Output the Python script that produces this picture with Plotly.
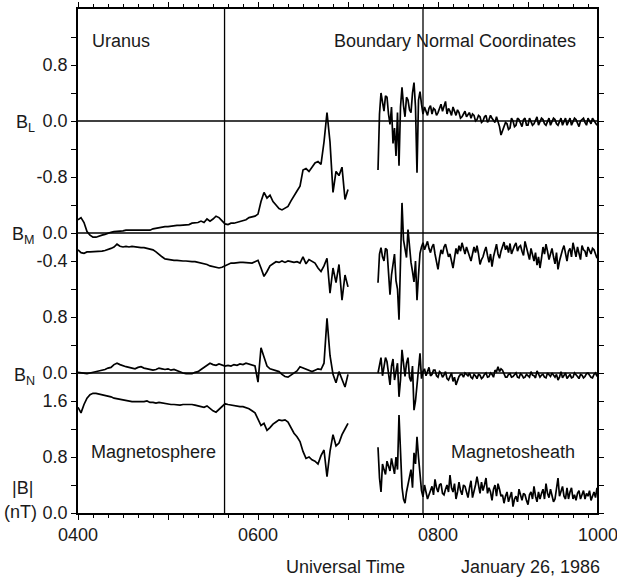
import plotly.graph_objects as go

# ---- data (time in minutes after 04:00 UT) ----
# Magnetosphere segment: 2-minute samples, t = 0..180
minutes_sphere = list(range(0, 182, 2))
# Magnetosheath / boundary segment: 1-minute samples, t = 200..346
minutes_sheath_even = list(range(200, 348, 2))
minutes_sheath_odd = list(range(201, 346, 2))

BL_sphere = [
    -1.41, -1.38, -1.45, -1.58, -1.63, -1.66, -1.66, -1.64, -1.63, -1.62,
    -1.60, -1.59, -1.58, -1.58, -1.57, -1.57, -1.56, -1.56, -1.56, -1.55,
    -1.55, -1.56, -1.55, -1.55, -1.56, -1.54, -1.53, -1.52, -1.52, -1.51,
    -1.51, -1.50, -1.50, -1.49, -1.49, -1.49, -1.48, -1.48, -1.46, -1.46,
    -1.45, -1.43, -1.45, -1.40, -1.43, -1.40, -1.36, -1.38, -1.42, -1.47,
    -1.48, -1.46, -1.46, -1.45, -1.44, -1.42, -1.41, -1.38, -1.37, -1.36,
    -1.33, -1.15, -1.02, -1.10, -1.06, -1.15, -1.20, -1.25, -1.27, -1.25,
    -1.22, -1.14, -1.06, -1.00, -0.93, -0.70, -0.68, -0.72, -0.66, -0.60,
    -0.58, -0.62, -0.30, 0.12, -0.30, -1.02, -0.72, -0.78, -0.66, -1.12,
    -0.98,
]
BL_sheath_even = [
    -0.70, 0.40, 0.14, 0.34, -0.05, -0.32, -0.50, -0.64, 0.48, 0.06,
    0.30, 0.12, 0.55, -0.74, 0.42, 0.10, 0.14, 0.18, 0.10, 0.16,
    0.12, 0.24, 0.22, 0.10, 0.14, 0.20, 0.08, 0.12, 0.06, 0.14,
    0.10, 0.04, 0.08, 0.02, 0.06, 0.00, 0.08, 0.02, 0.04, -0.02,
    0.00, -0.20, -0.08, -0.04, -0.10, 0.00, -0.06, 0.02, -0.08, 0.04,
    -0.06, 0.00, -0.04, 0.06, -0.02, 0.02, -0.06, 0.04, -0.02, 0.02,
    -0.06, 0.04, 0.00, -0.06, 0.04, -0.02, 0.02, -0.08, 0.02, -0.02,
    0.04, -0.04, 0.00, -0.06,
]
BL_sheath_odd = [
    0.10, 0.28, 0.36, 0.10, 0.20, -0.10, 0.12, 0.20, 0.22, 0.34,
    0.16, 0.40, 0.20, 0.30, 0.24, 0.20, 0.08, 0.22, 0.18, 0.08,
    0.18, 0.14, 0.28, 0.18, 0.08, 0.12, 0.16, 0.04, 0.10, 0.06,
    0.12, 0.10, 0.00, 0.08, -0.02, 0.06, -0.02, 0.08, 0.00, 0.06,
    -0.08, -0.14, -0.02, -0.12, 0.04, -0.08, 0.04, -0.04, 0.02, -0.06,
    0.04, -0.06, 0.00, -0.06, 0.04, -0.04, 0.00, -0.06, 0.04, -0.04,
    0.00, -0.06, 0.04, 0.00, -0.06, 0.04, -0.04, 0.00, 0.04, -0.06,
    0.00, 0.04, -0.04,
]

BM_sphere = [
    -0.24, -0.28, -0.29, -0.27, -0.27, -0.27, -0.26, -0.27, -0.26, -0.25,
    -0.24, -0.22, -0.20, -0.16, -0.19, -0.20, -0.19, -0.20, -0.19, -0.20,
    -0.20, -0.21, -0.21, -0.22, -0.23, -0.24, -0.27, -0.31, -0.34, -0.37,
    -0.38, -0.39, -0.39, -0.39, -0.40, -0.40, -0.40, -0.41, -0.41, -0.41,
    -0.42, -0.43, -0.43, -0.45, -0.47, -0.48, -0.50, -0.50, -0.49, -0.47,
    -0.45, -0.43, -0.43, -0.42, -0.42, -0.42, -0.42, -0.42, -0.43, -0.41,
    -0.39, -0.50, -0.62, -0.55, -0.47, -0.44, -0.41, -0.42, -0.40, -0.42,
    -0.40, -0.41, -0.42, -0.41, -0.43, -0.34, -0.44, -0.38, -0.40, -0.43,
    -0.50, -0.55, -0.47, -0.36, -0.86, -0.50, -0.71, -0.45, -0.96, -0.60,
    -0.77,
]
BM_sheath_even = [
    -0.71, -0.21, -0.40, -0.24, -0.88, -0.45, -0.68, -1.24, 0.43, -0.20,
    0.05, -0.42, -0.70, -0.96, -0.29, -0.14, -0.18, -0.22, -0.20, -0.30,
    -0.52, -0.24, -0.20, -0.26, -0.30, -0.50, -0.22, -0.18, -0.14, -0.30,
    -0.28, -0.40, -0.20, -0.18, -0.45, -0.34, -0.20, -0.42, -0.48, -0.22,
    -0.30, -0.26, -0.13, -0.18, -0.15, -0.22, -0.14, -0.20, -0.26, -0.12,
    -0.30, -0.22, -0.40, -0.46, -0.50, -0.20, -0.16, -0.38, -0.22, -0.44,
    -0.52, -0.30, -0.18, -0.40, -0.22, -0.14, -0.34, -0.30, -0.18, -0.26,
    -0.20, -0.30, -0.24, -0.36,
]
BM_sheath_odd = [
    -0.30, -0.34, -0.22, -0.50, -0.60, -0.30, -0.80, -0.40, -0.10, -0.35,
    -0.20, -0.55, -0.40, -0.60, -0.20, -0.24, -0.12, -0.28, -0.16, -0.40,
    -0.36, -0.30, -0.16, -0.34, -0.40, -0.36, -0.30, -0.26, -0.22, -0.20,
    -0.36, -0.30, -0.28, -0.30, -0.38, -0.26, -0.32, -0.30, -0.34, -0.16,
    -0.36, -0.20, -0.24, -0.28, -0.30, -0.18, -0.26, -0.18, -0.32, -0.20,
    -0.38, -0.30, -0.28, -0.34, -0.36, -0.30, -0.26, -0.30, -0.34, -0.28,
    -0.40, -0.24, -0.30, -0.26, -0.34, -0.24, -0.20, -0.38, -0.24, -0.34,
    -0.26, -0.22, -0.30,
]

BN_sphere = [
    0.01, 0.00, -0.01, -0.01, 0.00, 0.01, 0.02, 0.02, 0.03, 0.05,
    0.07, 0.08, 0.12, 0.14, 0.12, 0.10, 0.09, 0.08, 0.07, 0.06,
    0.08, 0.09, 0.07, 0.06, 0.05, 0.04, 0.05, 0.07, 0.06, 0.05,
    0.06, 0.04, 0.05, 0.03, 0.02, 0.00, -0.01, -0.01, -0.01, 0.01,
    0.02, 0.05, 0.08, 0.12, 0.14, 0.12, 0.11, 0.13, 0.12, 0.10,
    0.11, 0.10, 0.12, 0.11, 0.13, 0.12, 0.14, 0.13, 0.12, 0.10,
    -0.13, 0.36, 0.23, 0.10, 0.06, 0.05, 0.04, 0.02, -0.02, -0.05,
    -0.06, -0.03, 0.00, 0.03, 0.09, 0.07, 0.06, 0.04, 0.02, 0.04,
    0.06, 0.05, 0.14, 0.78, 0.25, -0.02, -0.14, 0.02, -0.08, -0.20,
    -0.02,
]
BN_sheath_even = [
    0.00, 0.22, 0.08, 0.16, -0.17, 0.20, 0.05, -0.34, 0.33, -0.05,
    0.22, -0.12, -0.53, -0.20, 0.28, 0.02, -0.04, 0.08, -0.02, 0.04,
    -0.06, 0.00, -0.03, -0.08, -0.04, -0.12, -0.17, -0.05, -0.02, 0.00,
    -0.04, -0.06, -0.02, -0.08, -0.03, -0.06, 0.00, -0.05, -0.02, 0.04,
    0.09, 0.06, -0.02, -0.06, -0.01, -0.05, 0.00, -0.07, -0.03, -0.06,
    -0.04, 0.02, -0.04, 0.03, -0.06, -0.02, -0.07, -0.02, 0.00, -0.06,
    -0.10, 0.02, -0.04, -0.08, -0.02, -0.06, -0.02, -0.08, -0.03, -0.05,
    0.00, -0.06, -0.02, -0.05,
]
BN_sheath_odd = [
    0.10, -0.04, 0.22, -0.02, 0.10, -0.10, 0.14, -0.10, 0.10, 0.14,
    -0.06, 0.10, -0.40, 0.10, -0.08, 0.06, 0.02, -0.04, 0.04, -0.04,
    0.02, -0.06, 0.02, -0.10, 0.00, -0.06, -0.10, -0.02, -0.06, -0.02,
    0.00, -0.08, -0.04, -0.02, -0.08, -0.02, -0.06, 0.00, -0.06, 0.02,
    0.02, 0.04, -0.06, -0.02, -0.06, -0.02, -0.06, -0.01, -0.07, -0.02,
    -0.06, -0.03, -0.07, -0.01, -0.03, -0.06, 0.00, -0.05, -0.04, -0.02,
    -0.06, -0.07, 0.00, -0.04, -0.07, 0.00, -0.05, -0.02, -0.07, -0.01,
    -0.04, -0.07, 0.00,
]

Btot_sphere = [
    1.51, 1.43, 1.55, 1.64, 1.69, 1.71, 1.71, 1.70, 1.70, 1.69,
    1.68, 1.66, 1.64, 1.63, 1.62, 1.61, 1.60, 1.60, 1.59, 1.59,
    1.59, 1.58, 1.59, 1.60, 1.58, 1.58, 1.57, 1.58, 1.57, 1.57,
    1.56, 1.55, 1.55, 1.54, 1.54, 1.55, 1.55, 1.56, 1.55, 1.54,
    1.53, 1.53, 1.51, 1.53, 1.49, 1.46, 1.44, 1.48, 1.53, 1.56,
    1.55, 1.54, 1.53, 1.53, 1.52, 1.52, 1.51, 1.49, 1.46, 1.43,
    1.34, 1.25, 1.28, 1.18, 1.22, 1.27, 1.30, 1.33, 1.32, 1.33,
    1.30, 1.22, 1.14, 1.09, 1.02, 0.88, 0.78, 0.80, 0.76, 0.74,
    0.70, 0.82, 0.90, 0.52, 0.88, 1.12, 0.96, 1.00, 1.12, 1.20,
    1.28,
]
Btot_sheath_even = [
    0.94, 0.30, 0.62, 0.74, 0.60, 0.66, 0.80, 1.40, 0.37, 0.14,
    0.40, 0.62, 0.86, 1.09, 0.58, 0.23, 0.30, 0.26, 0.38, 0.48,
    0.30, 0.42, 0.26, 0.40, 0.54, 0.30, 0.20, 0.44, 0.26, 0.38,
    0.22, 0.46, 0.30, 0.52, 0.28, 0.32, 0.50, 0.36, 0.18, 0.40,
    0.42, 0.24, 0.14, 0.30, 0.22, 0.09, 0.24, 0.34, 0.18, 0.26,
    0.12, 0.30, 0.38, 0.16, 0.20, 0.34, 0.42, 0.22, 0.26, 0.20,
    0.50, 0.30, 0.24, 0.36, 0.30, 0.20, 0.18, 0.32, 0.26, 0.20,
    0.24, 0.18, 0.30, 0.36,
]
Btot_sheath_odd = [
    0.50, 0.70, 0.55, 0.68, 0.78, 0.56, 0.62, 0.90, 0.20, 0.30,
    0.50, 0.36, 0.70, 0.80, 0.32, 0.40, 0.20, 0.32, 0.26, 0.36,
    0.40, 0.28, 0.34, 0.30, 0.36, 0.42, 0.30, 0.32, 0.40, 0.30,
    0.36, 0.22, 0.40, 0.36, 0.44, 0.40, 0.28, 0.30, 0.34, 0.24,
    0.34, 0.26, 0.24, 0.16, 0.30, 0.20, 0.16, 0.24, 0.28, 0.18,
    0.26, 0.20, 0.24, 0.30, 0.28, 0.20, 0.28, 0.34, 0.16, 0.34,
    0.24, 0.38, 0.20, 0.20, 0.36, 0.26, 0.28, 0.20, 0.32, 0.28,
    0.32, 0.26, 0.22,
]

series = {
    "BL": (BL_sphere, BL_sheath_even, BL_sheath_odd),
    "BM": (BM_sphere, BM_sheath_even, BM_sheath_odd),
    "BN": (BN_sphere, BN_sheath_even, BN_sheath_odd),
    "B": (Btot_sphere, Btot_sheath_even, Btot_sheath_odd),
}
# panel offsets on the shared vertical scale (nT)
offsets = {"BL": 5.6, "BM": 4.0, "BN": 2.0, "B": 0.0}

boundaries = [97.7, 230.0]  # vertical marker lines (minutes after 04:00)

x_tick_vals = [0, 60, 120, 180, 240, 300]
x_tick_text = ["0400", "", "0600", "", "0800", ""]
x_end = 346
x_end_label = "1000"

y_tick_vals = [round(0.4 * i, 1) for i in range(18)]
y_label_map = {0.0: "0.0", 0.8: "0.8", 1.6: "1.6", 2.0: "0.0", 2.8: "0.8",
               3.6: "-0.4", 4.0: "0.0", 4.8: "-0.8", 5.6: "0.0", 6.4: "0.8"}
y_tick_text = [y_label_map.get(v, "") for v in y_tick_vals]

FONT = "Liberation Sans, Arial, sans-serif"
TXT = "#1a1a1a"


def sheath_table(even, odd):
    pts = list(zip(minutes_sheath_even, even)) + list(zip(minutes_sheath_odd, odd))
    pts.sort()
    return [p[0] for p in pts], [p[1] for p in pts]


fig = go.Figure()
for name, (sphere, s_even, s_odd) in series.items():
    off = offsets[name]
    tx, vy = sheath_table(s_even, s_odd)
    xs = minutes_sphere + [None] + tx
    ys = [v + off for v in sphere] + [None] + [v + off for v in vy]
    fig.add_trace(go.Scatter(
        x=xs, y=ys, mode="lines", line=dict(color="black", width=1.7),
        connectgaps=False, showlegend=False, hoverinfo="skip"))

# zero lines of the stacked panels
for name in ["BL", "BM", "BN"]:
    fig.add_shape(type="line", xref="x", yref="y", x0=0, x1=x_end,
                  y0=offsets[name], y1=offsets[name],
                  line=dict(color="black", width=1.3))
for b in boundaries:
    fig.add_shape(type="line", xref="x", yref="y", x0=b, x1=b, y0=0, y1=7.2,
                  line=dict(color="black", width=1.3))

L, R, T, B = 78, 20, 9, 69
W, H = 617, 582
PW, PH = W - L - R, H - T - B


def px(x):
    return (x - L) / PW


def py(y):
    return (H - B - y) / PH


def ann(text, x, y, xanchor="left", yanchor="middle"):
    fig.add_annotation(text=text, xref="paper", yref="paper", x=px(x), y=py(y),
                       xanchor=xanchor, yanchor=yanchor, showarrow=False,
                       font=dict(family=FONT, size=18, color=TXT))


ann("Uranus", 90, 41)
ann("Boundary Normal Coordinates", 332, 41)
ann("Magnetosphere", 89, 452)
ann("Magnetosheath", 449, 452)
ann("Universal Time", 284, 567)
ann("January 26, 1986", 459, 567)
ann(x_end_label, 598, 535, xanchor="center")
ann("B<sub>L</sub>", 37, 124, xanchor="right")
ann("B<sub>M</sub>", 37, 236, xanchor="right")
ann("B<sub>N</sub>", 37, 376, xanchor="right")
ann("|B|", 35, 488, xanchor="right")
ann("(nT)", 39, 512, xanchor="right")

fig.update_layout(
    template="none",
    width=W, height=H,
    margin=dict(l=L, r=R, t=T, b=B, pad=0, autoexpand=False),
    paper_bgcolor="white", plot_bgcolor="white",
    font=dict(family=FONT, size=18, color=TXT),
    showlegend=False,
)
fig.update_xaxes(
    automargin=False,
    range=[0, x_end], tickmode="array", tickvals=x_tick_vals, ticktext=x_tick_text,
    ticks="outside", ticklen=5, tickwidth=1.3, tickcolor="black",
    showline=True, linecolor="black", linewidth=1.5, mirror="ticks",
    showgrid=False, zeroline=False,
    minor=dict(tickvals=[v for v in range(10, 346, 10) if v % 60 != 0],
               ticks="outside", ticklen=3, tickwidth=1.1, tickcolor="black",
               showgrid=False),
    tickfont=dict(family=FONT, size=18, color=TXT),
)
fig.update_yaxes(
    automargin=False,
    range=[0, 7.2], tickmode="array", tickvals=y_tick_vals, ticktext=y_tick_text,
    ticks="outside", ticklen=5, tickwidth=1.3, tickcolor="black",
    showline=True, linecolor="black", linewidth=1.5, mirror="ticks",
    showgrid=False, zeroline=False,
    tickfont=dict(family=FONT, size=18, color=TXT),
)

fig.write_html("out.html")
